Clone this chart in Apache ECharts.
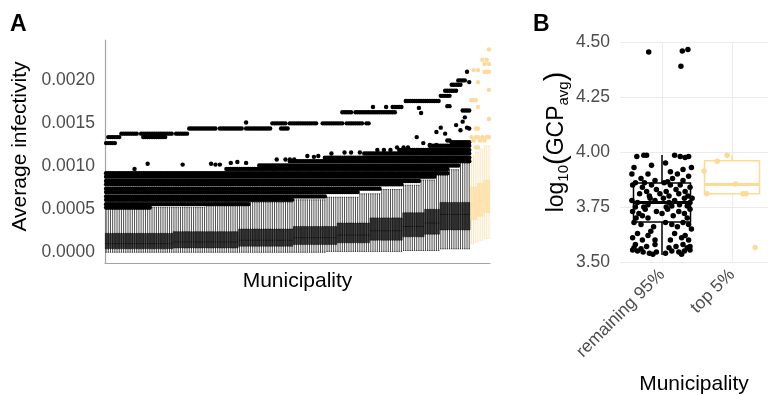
<!DOCTYPE html>
<html>
<head>
<meta charset="utf-8">
<script src="https://cdn.jsdelivr.net/npm/echarts@6/dist/echarts.min.js"></script>
<style>
html, body { margin: 0; padding: 0; background: #fff; }
#chart { width: 768px; height: 395px; }
</style>
</head>
<body>
<div id="chart"></div>
<script>
var FONT = 'Liberation Sans, Arial, sans-serif';
var GOLD = '#FDDA98';
var GREY_TXT = '#4d4d4d';

// ---- panel A : municipalities sorted by infectivity, last ones = top 5% ----
var nMunicipalities = 176;
var nTop = 9;

// box stats, infectivity in units of 1e-5, run-length [value, municipalities]
var boxMinRuns = [[0,101],[1,35],[2,17],[4,14],[10,2],[12,2],[14,2],[16,3]];
var boxQ1Runs  = [[4,31],[5,30],[7,25],[9,20],[11,15],[14,15],[18,10],[21,7],[26,14],[38,3],[42,3],[46,3]];
var boxMedRuns = [[10,31],[12,30],[14,25],[17,20],[20,15],[25,15],[30,10],[34,7],[44,14],[56,3],[60,3],[64,3]];
var boxQ3Runs  = [[22,31],[24,30],[27,25],[30,20],[34,15],[40,15],[46,10],[50,7],[58,14],[76,3],[80,3],[84,3]];
var boxMaxRuns = [[50,21],[52,25],[55,20],[58,20],[61,15],[64,15],[68,10],[73,10],[78,8],[84,7],[90,6],[96,5],[104,5],[112,2],[116,2],[120,2],[124,3]];

// outlier bands: [value 1e-5, first municipality, last municipality]
var cloudBands = [
  [52,0,20],[56,0,65],[61,0,85],[65,0,100],[70,0,115],[74,0,125],[79,0,135],[83,0,143],
  [88,0,150],[92,0,156],[97,55,156],[101,70,161],[106,84,166],[110,100,166],[115,118,166],
  [119,134,166],[124,148,166],[128,158,166]
];
var topBand = [
  [127,0,4],[134,1,6],[138,7,14],[138,16,30],[134,17,27],[138,32,37],[144,38,50],[144,52,62],
  [151,64,64],[144,64,75],[150,76,82],[144,80,83],[150,84,96],[150,99,108],[150,110,117],[150,119,120],
  [163,108,112],[163,114,132],[169,122,122],[169,128,128],[169,131,135],[176,137,152],[168,143,143],
  [162,144,144],[182,153,157],[188,155,160],[195,158,162],[200,161,164],[210,165,165],[198,166,166],
  [170,156,157],[165,163,166]
];
// single outliers [municipality, value 1e-5]
var sparseBlack = [
  [13,97],[19,103],[35,102],[48,103],[50,102],[52,102],[57,104],[60,105],[64,104],
  [78,108],[82,108],[84,108],[86,108],[92,112],[95,111],[97,112],[103,115],[109,116],[112,116],[116,116],
  [124,119],[127,119],[130,119],[133,122],[136,122],[138,122],[142,134],[145,127],[148,125],[151,125],
  [151,140],[153,145],[155,138],[156,130],[157,130],[160,148],[162,142],[163,152],[164,157],[165,145],[166,144]
];
var topOutliers = [
  [175,236],[172,224],[174,224],[173,219],[175,219],[168,212],[170,212],[173,210],[175,210],[174,210],
  [170,198],[175,189],[167,177],[168,177],[169,177],[170,169],[175,155],[169,144],[170,144],[167,134],
  [168,130],[169,134],[170,134],[171,130],[172,134],[173,130],[174,134],[175,134],[169,122],[170,122]
];

// ---- panel B : log10(GCP avg) by group ----
var groupLabels = ['remaining 95%', 'top 5%'];
var groupBox = [[3.532, 3.682, 3.773, 3.859, 3.986], [3.81, 3.81, 3.855, 3.96, 3.985]];
// jittered points [offset from group centre, value]
var restPoints = [
  [-0.19,4.455],[0.29,4.459],[0.37,4.466],[0.27,4.39],
  [-0.36,3.98],[-0.26,3.985],[-0.22,3.985],[0.18,3.985],[0.26,3.98],[0.33,3.975],[0.38,3.98],
  [-0.4,3.93],[-0.15,3.94],[0.05,3.95],[0.3,3.92],[0.42,3.93],
  [-0.38,3.86],[-0.3,3.88],[-0.2,3.9],[-0.1,3.87],[0.08,3.865],[0.15,3.88],[0.22,3.9],[0.3,3.87],
  [0.38,3.89],[-0.43,3.9],[0.12,3.91],
  [-0.42,3.85],[-0.28,3.84],[-0.22,3.82],[-0.15,3.85],[-0.08,3.83],[0.06,3.82],
  [0.12,3.85],[0.2,3.83],[0.26,3.85],[0.33,3.82],[0.4,3.84],[-0.32,3.81],[-0.18,3.8],[-0.03,3.81],[0.1,3.8],
  [0.24,3.81],[0.37,3.8],[-0.25,3.86],[0.03,3.86],
  [-0.43,3.78],[-0.35,3.77],[-0.2,3.76],[-0.1,3.78],[0.02,3.79],[0.1,3.77],
  [0.18,3.78],[0.25,3.76],[0.32,3.79],[0.4,3.77],[-0.38,3.75],[-0.26,3.75],[0.06,3.75],
  [0.14,3.755],[0.36,3.755],[0.43,3.79],[-0.17,3.79],
  [-0.42,3.73],[-0.33,3.72],[-0.24,3.74],[-0.08,3.73],[0.0,3.72],[0.08,3.74],[0.16,3.71],
  [0.24,3.73],[0.32,3.72],[0.4,3.74],[-0.37,3.7],[-0.2,3.7],[0.36,3.7],[-0.28,3.71],
  [-0.4,3.68],[-0.3,3.67],[-0.12,3.66],[0.05,3.68],[0.14,3.67],[0.22,3.66],[0.3,3.68],
  [0.38,3.67],[0.42,3.65],
  [-0.35,3.63],[-0.2,3.62],[-0.1,3.6],[0.18,3.63],[0.28,3.61],[0.38,3.6],[-0.28,3.6],[0.33,3.62],
  [-0.42,3.61],[0.12,3.6],[-0.16,3.64],
  [-0.38,3.58],[-0.22,3.57],[-0.1,3.58],[0.2,3.57],[0.3,3.58],[0.4,3.57],[-0.3,3.56],[0.1,3.565],
  [-0.42,3.555],[-0.35,3.55],[-0.27,3.545],[-0.18,3.54],[-0.08,3.545],[0.05,3.54],[0.14,3.55],
  [0.24,3.545],[0.32,3.55],[0.4,3.555],[-0.13,3.535],[0.28,3.535],[-0.4,3.565],[0.36,3.565]
];
var topPoints = [[-0.4,3.914],[-0.36,3.81],[-0.21,3.958],[-0.07,3.985],[0.16,3.81],[0.2,3.81],[0.33,3.566],[0.05,3.855]];

function expandRuns(runs) {
    var out = [];
    runs.forEach(function (r) { for (var k = 0; k < r[1]; k++) out.push(r[0]); });
    return out;
}
function expandBands(bands) {
    var out = [];
    bands.forEach(function (b) { for (var i = b[1]; i <= b[2]; i++) out.push([i, b[0] * 1e-5]); });
    return out;
}

var municipalities = [];
for (var i = 0; i < nMunicipalities; i++) municipalities.push('M' + (i + 1));

var mins = expandRuns(boxMinRuns), q1s = expandRuns(boxQ1Runs), meds = expandRuns(boxMedRuns),
    q3s = expandRuns(boxQ3Runs), maxs = expandRuns(boxMaxRuns);

var boxDataA = municipalities.map(function (m, i) {
    var top = i >= nMunicipalities - nTop;
    return {
        value: [mins[i], q1s[i], meds[i], q3s[i], maxs[i]].map(function (v) { return v * 1e-5; }),
        itemStyle: top ? { color: '#fce9c2', borderColor: GOLD } : { color: '#333', borderColor: '#000' }
    };
});

var blackOutliers = expandBands(cloudBands).concat(expandBands(topBand))
    .concat(sparseBlack.map(function (p) { return [p[0], p[1] * 1e-5]; }));
var goldOutliers = topOutliers.map(function (p) { return [p[0], p[1] * 1e-5]; });

// B boxes: body only (Q1..Q3); whiskers & thick median added as mark lines
function boxBody(g) {
    var s = groupBox[g];
    return [g + 1, s[1], s[1], s[2], s[3], s[3]];
}
function whiskerLines(g, color) {
    var s = groupBox[g], x = g + 1;
    var st = { color: color, width: 1.5, type: 'solid' };
    var lines = [
        [{ coord: [x, s[3]], lineStyle: st }, { coord: [x, s[4]] }],
        [{ coord: [x - 0.4, s[2]], lineStyle: { color: color, width: 3, type: 'solid' } }, { coord: [x + 0.4, s[2]] }]
    ];
    if (s[0] < s[1]) lines.push([{ coord: [x, s[0]], lineStyle: st }, { coord: [x, s[1]] }]);
    return lines;
}

var axisLineGrey = { color: '#a3a3a3', width: 1.2 };
var hiddenX = { type: 'value', gridIndex: 1, min: 0.4, max: 2.514, show: false };
var chart = echarts.init(document.getElementById('chart'));
chart.setOption({
    animation: false,
    backgroundColor: '#fff',
    textStyle: { fontFamily: FONT },
    title: [
        { text: 'A', left: 5, top: 8, textStyle: { fontSize: 23, fontWeight: 'bold', color: '#000', fontFamily: FONT } },
        { text: 'B', left: 528, top: 8, textStyle: { fontSize: 23, fontWeight: 'bold', color: '#000', fontFamily: FONT } }
    ],
    grid: [
        { left: 105, top: 40, width: 385, bottom: 132, outerBoundsMode: 'none' },
        { left: 620, right: 0, top: 42, bottom: 133, outerBoundsMode: 'none' }
    ],
    xAxis: [
        {
            type: 'category', gridIndex: 0, data: municipalities, boundaryGap: true,
            axisLine: { onZero: false, lineStyle: axisLineGrey },
            axisTick: { show: false }, axisLabel: { show: false }, splitLine: { show: false },
            name: 'Municipality', nameLocation: 'middle', nameGap: 8,
            nameTextStyle: { fontSize: 21, color: '#000', fontFamily: FONT, verticalAlign: 'top' }
        },
        {
            type: 'value', gridIndex: 1, min: 0.4, max: 2.514,
            axisLine: { show: false },
            axisTick: { show: false, customValues: [1, 2] },
            axisLabel: {
                customValues: [1, 2], rotate: 45, margin: 10, color: GREY_TXT, fontSize: 17.5, fontFamily: FONT,
                formatter: function (v) { return groupLabels[Math.round(v) - 1]; }
            },
            splitLine: { show: true, lineStyle: { color: '#ebebeb', width: 1.1 } },
            name: 'Municipality', nameLocation: 'middle', nameGap: 112,
            nameTextStyle: { fontSize: 21, color: '#000', fontFamily: FONT, verticalAlign: 'top' }
        },
        hiddenX,
        echarts.util.extend({ position: 'top' }, hiddenX)
    ],
    yAxis: [
        {
            type: 'value', gridIndex: 0, min: -0.000125, max: 0.00247, splitNumber: 5,
            axisLine: { show: true, onZero: false, lineStyle: axisLineGrey },
            axisTick: { show: false }, splitLine: { show: false },
            axisLabel: {
                showMinLabel: false, showMaxLabel: false, margin: 10,
                color: GREY_TXT, fontSize: 17.5, fontFamily: FONT,
                formatter: function (v) { return Math.abs(v) < 1e-9 ? '0.0000' : v.toFixed(4); }
            },
            name: 'Average infectivity', nameLocation: 'middle', nameGap: 68,
            nameTextStyle: { fontSize: 21, color: '#000', fontFamily: FONT, padding: [0, 0, 0, 10] }
        },
        {
            type: 'value', gridIndex: 1, min: 3.5, max: 4.5, interval: 0.25,
            axisLine: { show: false }, axisTick: { show: false },
            splitLine: { show: true, lineStyle: { color: '#ebebeb', width: 1.1 } },
            axisLabel: {
                margin: 10, color: GREY_TXT, fontSize: 17.5, fontFamily: FONT,
                formatter: function (v) { return v.toFixed(2); }
            },
            name: '{m|log}{s|10}{p|(}{m|GCP}{s|avg}{p|)}', nameLocation: 'middle', nameGap: 49,
            nameTextStyle: {
                color: '#000', fontFamily: FONT, padding: [0, 0, 0, 20],
                rich: {
                    m: { fontSize: 23, fontFamily: FONT, color: '#000', lineHeight: 28 },
                    p: { fontSize: 29, fontFamily: FONT, color: '#000', lineHeight: 28 },
                    s: { fontSize: 15, fontFamily: FONT, color: '#000', lineHeight: 10, verticalAlign: 'bottom' }
                }
            }
        }
    ],
    series: [
        {
            type: 'boxplot', xAxisIndex: 0, yAxisIndex: 0, silent: true,
            boxWidth: [1.4, 1.4], data: boxDataA,
            itemStyle: { borderWidth: 0.7 }
        },
        {
            type: 'scatter', xAxisIndex: 0, yAxisIndex: 0, silent: true,
            symbolSize: 4.4, data: blackOutliers, itemStyle: { color: '#000', opacity: 1 }
        },
        {
            type: 'scatter', xAxisIndex: 0, yAxisIndex: 0, silent: true,
            symbolSize: 4.4, data: goldOutliers, itemStyle: { color: GOLD, opacity: 1 }
        },
        {
            // top 5% box under its points, white fill
            type: 'boxplot', xAxisIndex: 2, yAxisIndex: 1, silent: true, z: 2,
            boxWidth: [55, 55], data: [boxBody(1)],
            itemStyle: { color: '#fff', borderColor: GOLD, borderWidth: 1.5 }
        },
        {
            type: 'scatter', xAxisIndex: 1, yAxisIndex: 1, silent: true, z: 3,
            symbolSize: 5.5, itemStyle: { color: '#000', opacity: 1 },
            data: restPoints.map(function (p) { return [1 + p[0], p[1]]; }),
            markLine: { silent: true, symbol: 'none', label: { show: false }, animation: false, data: whiskerLines(0, '#000') }
        },
        {
            type: 'scatter', xAxisIndex: 1, yAxisIndex: 1, silent: true, z: 3,
            symbolSize: 5.5, itemStyle: { color: GOLD, opacity: 1 },
            data: topPoints.map(function (p) { return [2 + p[0], p[1]]; }),
            markLine: { silent: true, symbol: 'none', label: { show: false }, animation: false, data: whiskerLines(1, GOLD) }
        },
        {
            // remaining box outline over the jittered points
            type: 'boxplot', xAxisIndex: 3, yAxisIndex: 1, silent: true, z: 4,
            boxWidth: [57, 57], data: [boxBody(0)],
            itemStyle: { color: 'rgba(255,255,255,0)', borderColor: '#000', borderWidth: 1.5 }
        }
    ]
});
</script>
</body>
</html>
